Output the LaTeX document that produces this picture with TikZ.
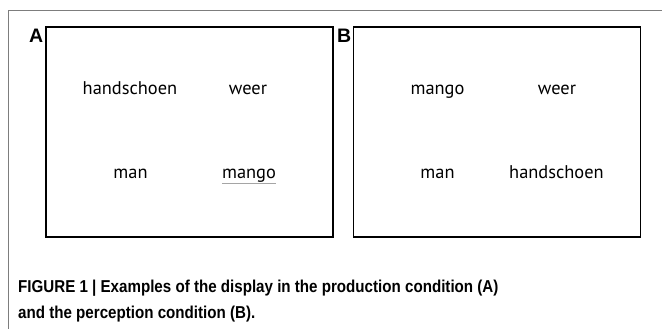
\documentclass[tikz,border=0pt]{standalone}
\usepackage{fontspec}
\newfontfamily\wordfont{PT Sans}
\newfontfamily\labfont{Liberation Sans}
\newfontfamily\capfont[FakeStretch=0.88]{Liberation Sans}
\definecolor{framegray}{RGB}{125,125,125}
\definecolor{ulgray}{RGB}{165,165,165}
\tikzset{
  panelbox/.style={draw=black, line width=1.3pt, inner sep=0pt, minimum width=287pt, minimum height=210pt},
  word/.style={font=\wordfont\fontsize{18.4}{18.4}\selectfont, anchor=base, inner sep=0pt},
  panlab/.style={font=\labfont\bfseries\fontsize{19.5}{19.5}\selectfont, anchor=base west, inner sep=0pt},
  captext/.style={font=\capfont\bfseries\fontsize{17.2}{17.2}\selectfont, anchor=base west, inner sep=0pt}
}
\begin{document}
\begin{tikzpicture}[x=1pt,y=-1pt]
\useasboundingbox (0,0) rectangle (662,329);
% outer frame
\coordinate (ftr) at (662,10.5);
\coordinate (ftl) at (8.5,10.5);
\coordinate (fbl) at (8.5,329);
\draw[framegray, line width=1.2pt] (ftr) -- (ftl) -- (fbl);
% panels
\node[panelbox] (pa) at (189.5,132) {};
\node[panelbox] (pb) at (497,132) {};
\node[panlab] (la) at (29,43) {A};
\node[panlab] (lb) at (337,43) {B};
% panel A words
\node[word] (a1) at (130,95) {handschoen};
\node[word] (a2) at (248,95) {weer};
\node[word] (a3) at (130.5,178.5) {man};
\node[word] (a4) at (249,178.5) {mango};
\draw[ulgray, line width=1pt] ([yshift=-4.5pt]a4.base west) -- ([yshift=-4.5pt]a4.base east);
% panel B words
\node[word] (b1) at (437.5,95) {mango};
\node[word] (b2) at (557,95) {weer};
\node[word] (b3) at (437.5,178.5) {man};
\node[word] (b4) at (556.5,178.5) {handschoen};
% caption
\node[captext] (c1) at (18,292.3) {FIGURE 1 | Examples of the display in the production condition (A)};
\node[captext] (c2) at (18,318) {and the perception condition (B).};
\end{tikzpicture}
\end{document}
